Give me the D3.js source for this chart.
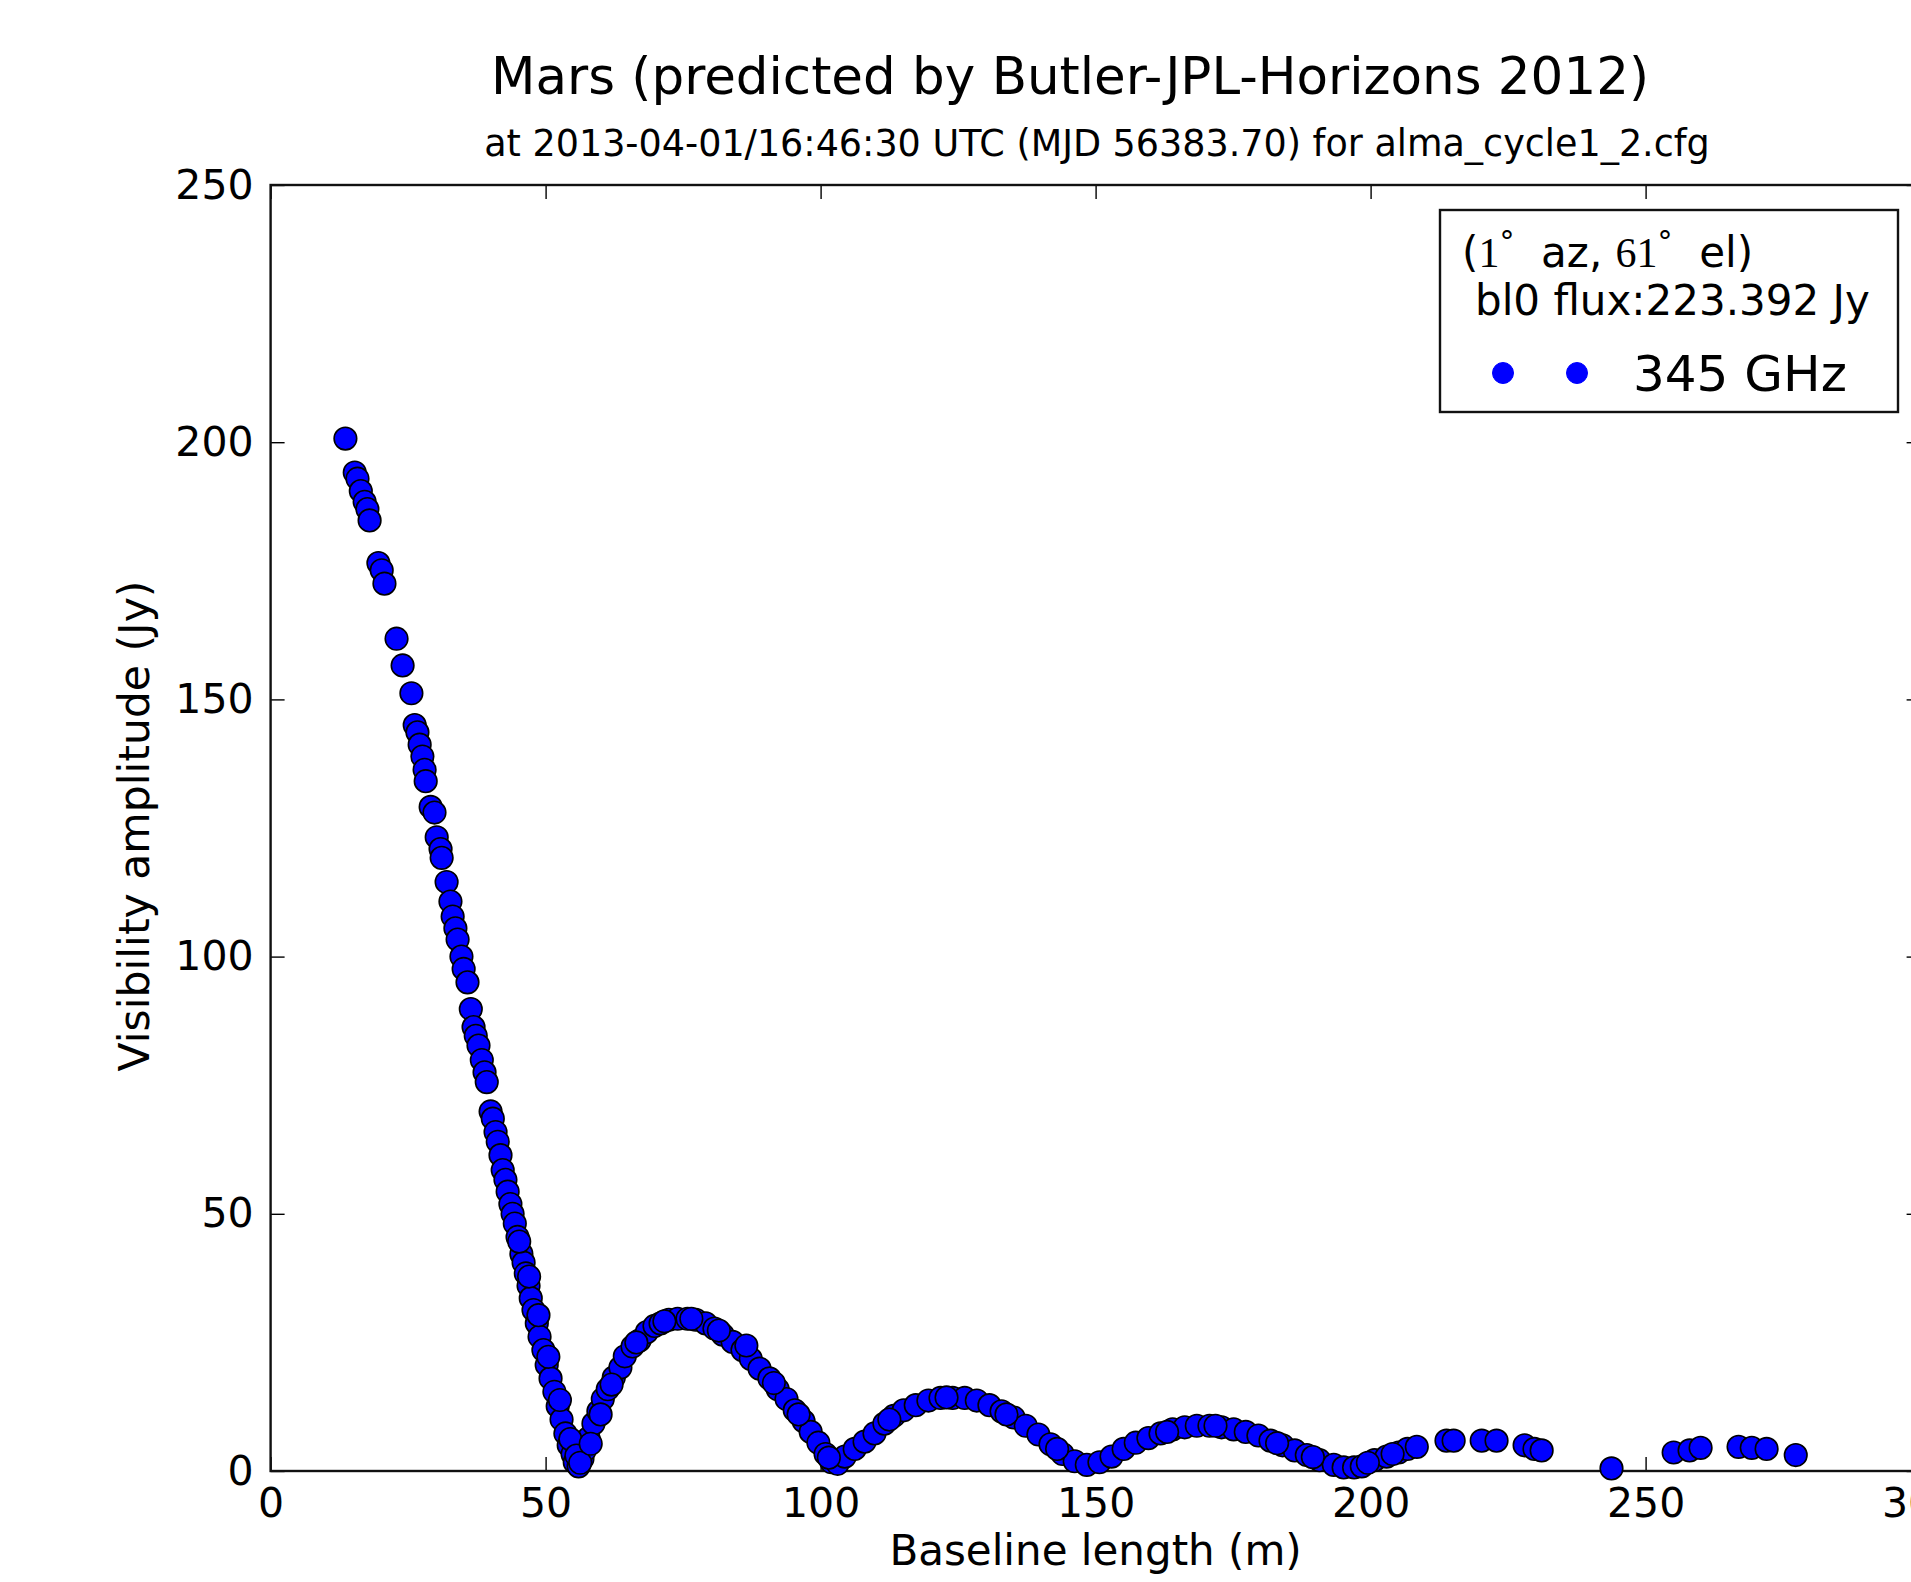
<!DOCTYPE html>
<html>
<head>
<meta charset="utf-8">
<script src="https://cdn.jsdelivr.net/npm/d3@7"></script>
<style>
  html, body { margin: 0; padding: 0; background: #fff; overflow: hidden; }
  svg { display: block; }
  text { font-family: "DejaVu Sans", sans-serif; fill: #000; }
</style>
</head>
<body>
<svg id="chart" width="1911" height="1582"></svg>
<script>
// ---- data ----
const titleText = "Mars (predicted by Butler-JPL-Horizons 2012)";
const subtitleText = "at 2013-04-01/16:46:30 UTC (MJD 56383.70) for alma_cycle1_2.cfg";
const xLabel = "Baseline length (m)";
const yLabel = "Visibility amplitude (Jy)";
const xTicks = [0, 50, 100, 150, 200, 250, 300];
const yTicks = [0, 50, 100, 150, 200, 250];
const seriesName = "345 GHz";
const fluxLine = "bl0 flux:223.392 Jy";

// baseline length (m)
const baselines = [
  13.6, 15.3, 15.8, 16.4, 17.1, 17.6, 18.0, 19.6, 20.2, 20.7,
  22.9, 24.0, 25.6, 26.2, 26.7, 27.1, 27.6, 28.0, 28.2, 29.1,
  29.8, 30.2, 30.9, 31.1, 32.0, 32.7, 33.1, 33.6, 34.0, 34.7,
  35.1, 35.8, 36.4, 36.9, 37.3, 37.8, 38.4, 38.9, 39.3, 40.0,
  40.4, 40.9, 41.3, 41.8, 42.2, 42.7, 43.1, 43.6, 44.0, 44.4,
  44.9, 45.6, 46.0, 46.4, 46.9, 47.3, 47.8, 48.4, 48.9, 49.6,
  50.2, 50.9, 51.6, 52.2, 52.9, 53.6, 54.2, 54.9, 55.3, 56.0,
  56.7, 57.1, 57.8, 58.7, 59.6, 60.4, 61.3, 62.4, 63.6, 64.4,
  65.8, 67.1, 68.4, 69.8, 70.9, 72.4, 74.0, 75.8, 77.3, 79.1,
  80.7, 82.2, 84.0, 85.8, 87.3, 88.9, 90.7, 92.2, 93.8, 95.3,
  96.9, 98.2, 99.6, 100.9, 102.0, 103.1, 104.4, 106.2, 108.0, 109.8,
  111.6, 113.3, 115.1, 117.3, 119.6, 121.8, 124.0, 126.2, 128.4, 130.7,
  132.9, 135.1, 137.3, 139.6, 141.8, 144.0, 146.2, 148.4, 150.7, 152.9,
  155.1, 157.3, 159.6, 161.8, 164.0, 166.2, 168.4, 170.7, 172.9, 175.1,
  177.3, 179.6, 181.8, 184.0, 186.2, 188.4, 190.7, 193.3, 195.1, 197.0,
  198.4, 200.7, 202.9, 205.1, 206.7, 208.4, 213.8, 215.1, 220.2, 222.9,
  228.0, 229.8, 231.1, 243.8, 255.1, 258.0, 260.0, 266.9, 269.3, 272.0,
  277.3,
  // extra points seen in the thicker parts of the band
  45.2, 47.0, 48.7, 50.5, 52.6, 54.5, 55.6, 56.3, 58.2, 60.0,
  62.0, 66.5, 71.6, 76.5, 81.5, 86.5, 91.5, 96.0, 101.5, 112.5,
  122.9, 133.8, 143.0, 163.0, 171.8, 183.0, 189.5, 199.5, 204.0
];
// visibility amplitude (Jy)
const amplitudes = [
  200.7, 194.1, 192.9, 190.5, 188.4, 187.0, 184.8, 176.5, 175.1, 172.5,
  161.8, 156.6, 151.2, 145.0, 143.6, 141.2, 138.9, 136.3, 134.1, 129.1,
  128.0, 123.2, 120.9, 119.2, 114.5, 110.7, 107.8, 105.5, 103.3, 100.0,
  97.6, 95.0, 89.8, 86.3, 84.6, 82.7, 79.9, 77.5, 75.6, 69.9,
  68.5, 65.9, 64.0, 61.4, 58.5, 56.6, 54.3, 51.9, 50.0, 48.1,
  45.5, 42.2, 40.5, 38.4, 36.0, 33.6, 31.3, 28.7, 26.1, 23.5,
  20.6, 18.0, 15.4, 12.6, 10.0, 7.3, 5.0, 3.3, 1.7, 0.9,
  2.4, 4.0, 6.4, 9.2, 11.6, 14.0, 15.9, 18.2, 20.1, 22.3,
  24.2, 25.4, 27.0, 28.2, 28.7, 29.4, 29.6, 29.6, 29.4, 28.7,
  27.7, 26.5, 25.1, 23.5, 21.8, 19.9, 18.0, 15.9, 14.0, 11.8,
  9.7, 7.6, 5.5, 3.3, 1.7, 1.4, 2.8, 4.3, 5.7, 7.3,
  9.2, 10.7, 11.8, 12.8, 13.7, 14.2, 14.2, 14.2, 13.7, 12.8,
  11.6, 10.4, 8.8, 7.1, 5.2, 3.3, 1.9, 1.2, 1.7, 2.8,
  4.3, 5.5, 6.4, 7.3, 8.1, 8.5, 8.8, 8.8, 8.5, 8.1,
  7.6, 6.9, 5.9, 5.0, 4.0, 3.1, 2.1, 1.2, 0.7, 0.7,
  0.9, 2.1, 2.8, 3.6, 4.3, 4.7, 5.9, 5.9, 5.9, 5.9,
  5.0, 4.3, 4.0, 0.5, 3.6, 4.0, 4.5, 4.7, 4.5, 4.3,
  3.1,
  44.6, 37.8, 30.3, 22.2, 13.8, 6.2, 3.0, 1.6, 5.3, 11.0,
  16.8, 25.0, 29.1, 29.6, 27.3, 24.4, 17.1, 11.0, 2.6, 10.0,
  14.3, 11.0, 4.3, 7.6, 8.8, 5.4, 2.7, 1.6, 3.3
];

const points = baselines.map((b, i) => ({ x: b, y: amplitudes[i] }));

// ---- layout ----
const svg = d3.select("#chart");
const plotL = 270.6, plotR = 1920.6, plotT = 185, plotB = 1471;
const x = d3.scaleLinear().domain([0, 300]).range([plotL, plotR]);
const y = d3.scaleLinear().domain([0, 250]).range([plotB, plotT]);

const tickLen = 14;

// axes (ticks pointing inward, matplotlib style)
const gx = svg.append("g").attr("transform", `translate(0,${plotB})`)
  .call(d3.axisBottom(x).tickValues(xTicks).tickFormat(d3.format("d"))
    .tickSizeInner(-tickLen).tickSizeOuter(0).tickPadding(17));
const gxTop = svg.append("g").attr("transform", `translate(0,${plotT})`)
  .call(d3.axisTop(x).tickValues(xTicks).tickFormat("")
    .tickSizeInner(-tickLen).tickSizeOuter(0));
const gy = svg.append("g").attr("transform", `translate(${plotL},0)`)
  .call(d3.axisLeft(y).tickValues(yTicks).tickFormat(d3.format("d"))
    .tickSizeInner(-tickLen).tickSizeOuter(0).tickPadding(17));
const gyRight = svg.append("g").attr("transform", `translate(${plotR},0)`)
  .call(d3.axisRight(y).tickValues(yTicks).tickFormat("")
    .tickSizeInner(-tickLen).tickSizeOuter(0));

[gx, gxTop, gy, gyRight].forEach(g => {
  g.select(".domain").remove();
  g.selectAll(".tick line").attr("stroke", "#000").attr("stroke-width", 1.4);
  g.selectAll(".tick text").attr("font-family", "DejaVu Sans").attr("font-size", 41).attr("fill", "#111");
});

// frame
svg.append("rect")
  .attr("x", plotL).attr("y", plotT)
  .attr("width", plotR - plotL).attr("height", plotB - plotT)
  .attr("fill", "none").attr("stroke", "#111").attr("stroke-width", 2.4);

// points
svg.append("g").selectAll("circle").data(points).join("circle")
  .attr("cx", d => x(d.x))
  .attr("cy", d => y(d.y))
  .attr("r", 11.3)
  .attr("fill", "#0000ff")
  .attr("stroke", "#000")
  .attr("stroke-width", 1.6);

// titles
svg.append("text").attr("x", 1070).attr("y", 94).attr("text-anchor", "middle")
  .attr("font-size", 51.5).attr("fill", "#111").text(titleText);
svg.append("text").attr("x", 1097).attr("y", 156).attr("text-anchor", "middle")
  .attr("font-size", 36.5).attr("fill", "#111").text(subtitleText);

// axis labels
svg.append("text").attr("x", (plotL + plotR) / 2).attr("y", 1565).attr("text-anchor", "middle")
  .attr("font-size", 42).attr("fill", "#111").text(xLabel);
svg.append("text").attr("transform", `translate(149,${(plotT + plotB) / 2 - 2}) rotate(-90)`)
  .attr("text-anchor", "middle").attr("font-size", 42.5).attr("fill", "#111").text(yLabel);

// legend
const lg = svg.append("g");
lg.append("rect").attr("x", 1440).attr("y", 210).attr("width", 458).attr("height", 202)
  .attr("fill", "#fff").attr("stroke", "#111").attr("stroke-width", 2.4);
const l1 = lg.append("text").attr("x", 1462).attr("y", 267).attr("font-size", 42).attr("fill", "#111");
l1.append("tspan").text("(");
l1.append("tspan").attr("font-family", "Liberation Serif").text("1");
l1.append("tspan").attr("font-size", 30).attr("dy", -15).text("°");
l1.append("tspan").attr("dy", 15).text("\u00a0 az, ");
l1.append("tspan").attr("font-family", "Liberation Serif").text("61");
l1.append("tspan").attr("font-size", 30).attr("dy", -15).text("°");
l1.append("tspan").attr("dy", 15).text("\u00a0 el)");
lg.append("text").attr("x", 1475).attr("y", 315).attr("font-size", 42).attr("fill", "#111").text(fluxLine);
lg.selectAll("circle.leg").data([1503, 1577]).join("circle").attr("class", "leg")
  .attr("cx", d => d).attr("cy", 373).attr("r", 10.5)
  .attr("fill", "#0000ff").attr("stroke", "#0000ff").attr("stroke-width", 1);
lg.append("text").attr("x", 1633).attr("y", 391).attr("font-size", 50).attr("fill", "#111").text(seriesName);
</script>
</body>
</html>
